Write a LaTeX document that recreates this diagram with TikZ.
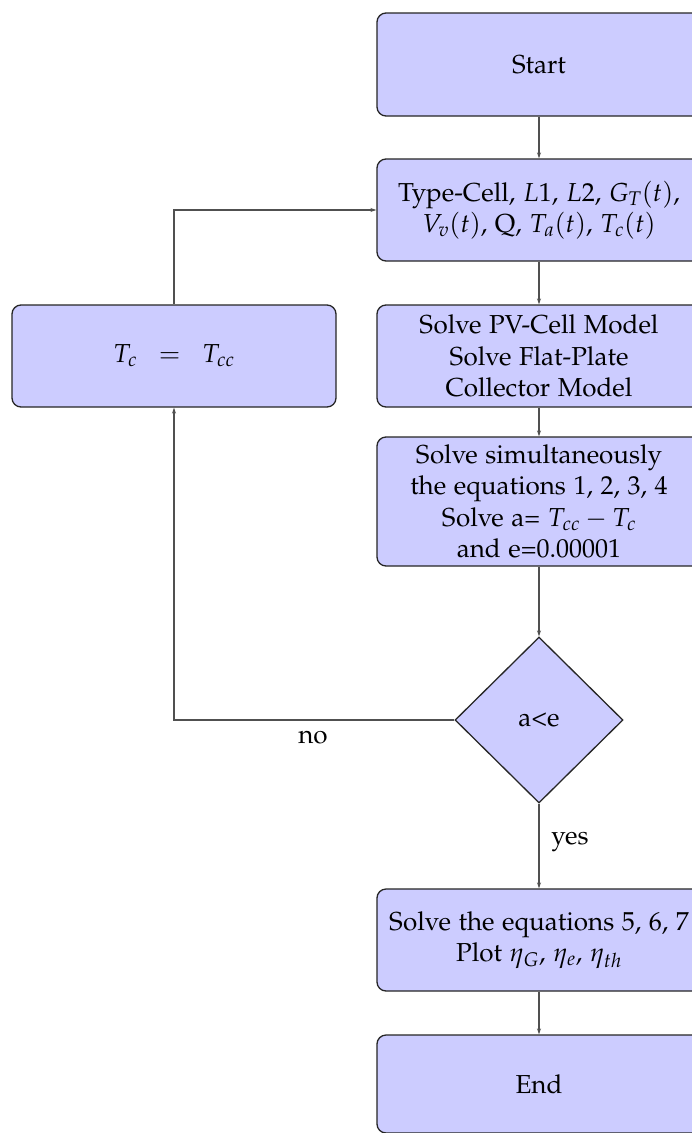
\documentclass[tikz,border=0pt]{standalone}
\usepackage[T1]{fontenc}
\usepackage{mathpazo}
\renewcommand{\rmdefault}{pplx}
\usetikzlibrary{shapes.geometric,arrows.meta}
\definecolor{boxfill}{RGB}{204,204,255}
\definecolor{linecol}{RGB}{80,80,80}
\newcommand{\bigpal}{\fontencoding{T1}\fontfamily{pplx}\fontsize{26}{31.5}\selectfont}
\tikzset{
  procbox/.style={rectangle, rounded corners=9pt, draw=black!85, line width=1.3pt, fill=boxfill,
    minimum width=324pt, align=center, inner sep=2pt, font=\bigpal},
  decbox/.style={diamond, draw=black!85, line width=1.3pt, fill=boxfill, minimum width=168pt,
    minimum height=166pt, inner sep=0pt, font=\bigpal},
  conn/.style={draw=linecol, line width=1.2pt, -{Stealth[length=6pt,width=4pt]}},
  lbl/.style={font=\bigpal}
}
\begin{document}
\begin{tikzpicture}[x=1pt,y=-1pt]
\useasboundingbox[fill=white] (0,0) rectangle (692,1133);
\node[procbox, minimum height=103pt] (start) at (539,64.5) {Start};
\node[procbox, minimum height=102pt] (input) at (539,210) {Type-Cell, $L1$, $L2$, $G_T(t)$,\\ $V_v(t)$, Q, $T_a(t)$, $T_c(t)$};
\node[procbox, minimum height=102pt] (pv) at (539,356) {Solve PV-Cell Model\\ Solve Flat-Plate\\ Collector Model};
\node[procbox, minimum height=129pt] (simul) at (539,501.5) {Solve simultaneously\\ the equations 1, 2, 3, 4\\ Solve a= $T_{cc}-T_c$\\ and e=0.00001};
\node[decbox] (dec) at (539,720) {a<e};
\node[procbox, minimum height=102pt] (plot) at (539,940) {Solve the equations 5, 6, 7\\ Plot $\eta_G$, $\eta_e$, $\eta_{th}$};
\node[procbox, minimum height=98pt] (end) at (539,1084) {End};
\node[procbox, minimum height=102pt] (tc) at (174,356) {$T_c \;\;=\;\; T_{cc}$};
\coordinate (c1) at (174,720);
\coordinate (c2) at (174,210);
\draw[conn] (start) -- (input);
\draw[conn] (input) -- (pv);
\draw[conn] (pv) -- (simul);
\draw[conn] (simul) -- (dec);
\draw[conn] (dec) -- (plot);
\draw[conn] (plot) -- (end);
\draw[conn] (dec.west) -- (c1) -- (tc.south);
\draw[conn] (tc.north) -- (c2) -- (input.west);
\node[lbl] (no) at (313,737) {no};
\node[lbl] (yes) at (570,842) {yes};
\end{tikzpicture}
\end{document}
